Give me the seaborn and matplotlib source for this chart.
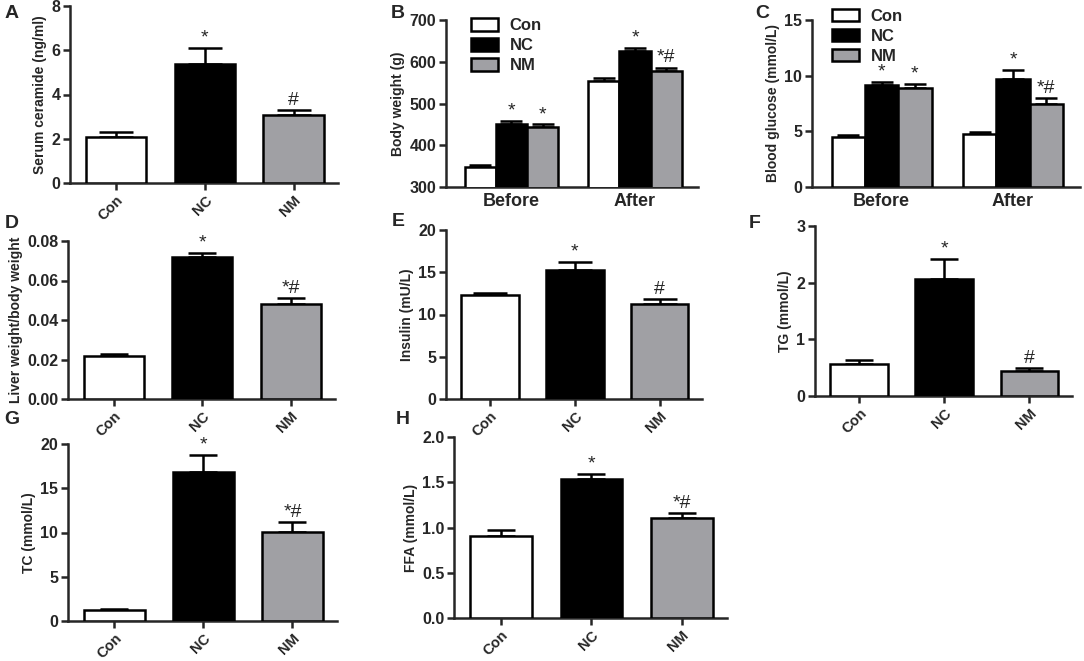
import matplotlib
matplotlib.use("Agg")
import matplotlib.pyplot as plt
import seaborn as sns
import pandas as pd
import numpy as np
from matplotlib.patches import Patch

# ---------------- data ----------------
groups = ["Con", "NC", "NM"]
colors = ["#FFFFFF", "#000000", "#A0A0A4"]
times = ["Before", "After"]

# A serum ceramide
cer_mean = [2.1, 5.4, 3.08]
cer_err = [0.22, 0.7, 0.22]
cer_marks = ["", "*", "#"]

# B body weight (Before, After)
bw_con = [349, 554]
bw_nc = [451, 626]
bw_nm = [444, 578]
bw_con_err = [3, 6]
bw_nc_err = [8, 7]
bw_nm_err = [6, 8]
bw_marks_con = ["", ""]
bw_marks_nc = ["*", "*"]
bw_marks_nm = ["*", "*#"]

# C blood glucose (Before, After)
bg_con = [4.5, 4.75]
bg_nc = [9.15, 9.7]
bg_nm = [8.87, 7.45]
bg_con_err = [0.15, 0.15]
bg_nc_err = [0.3, 0.8]
bg_nm_err = [0.35, 0.5]
bg_marks_con = ["", ""]
bg_marks_nc = ["*", "*"]
bg_marks_nm = ["*", "*#"]

# D liver / body weight
liv_mean = [0.0218, 0.0717, 0.0481]
liv_err = [0.0008, 0.0024, 0.0029]
liv_marks = ["", "*", "*#"]

# E insulin
ins_mean = [12.3, 15.25, 11.2]
ins_err = [0.3, 1.0, 0.63]
ins_marks = ["", "*", "#"]

# F TG
tg_mean = [0.565, 2.06, 0.447]
tg_err = [0.07, 0.36, 0.045]
tg_marks = ["", "*", "#"]

# G TC
tc_mean = [1.24, 16.85, 10.05]
tc_err = [0.06, 1.9, 1.1]
tc_marks = ["", "*", "*#"]

# H FFA
ffa_mean = [0.906, 1.536, 1.108]
ffa_err = [0.066, 0.055, 0.05]
ffa_marks = ["", "*", "*#"]

# ---------------- style ----------------
sns.set_style("ticks")
plt.rcParams["font.family"] = ["Liberation Sans", "DejaVu Sans"]
plt.rcParams["font.weight"] = "bold"
plt.rcParams["axes.labelweight"] = "bold"

W, H = 1084, 661
fig = plt.figure(figsize=(W / 100, H / 100), dpi=100)
LW = 1.8


def add_ax(left, right, top, bottom):
    return fig.add_axes([left / W, (H - bottom) / H, (right - left) / W, (bottom - top) / H])


def style_ax(ax, ylim, yticks, ylabel, fmt):
    sns.despine(ax=ax)
    for s in ["left", "bottom"]:
        ax.spines[s].set_linewidth(LW)
    ax.set_ylim(*ylim)
    ax.set_yticks(yticks)
    ax.set_yticklabels([fmt.format(v) for v in yticks], fontsize=11.5, fontweight="bold")
    ax.set_ylabel(ylabel, fontsize=10, fontweight="bold", labelpad=3)
    ax.tick_params(axis="y", width=LW, length=5, pad=2)


def annotate(ax, x, top, mark, fs=14):
    if mark:
        ax.annotate(mark, (x, top), xytext=(0, 1), textcoords="offset points",
                    ha="center", va="bottom", fontsize=fs, fontweight="normal")


def single_panel(ax, mean, err, marks, ylim, yticks, ylabel, fmt, capsize):
    df = pd.DataFrame({"group": groups, "value": mean})
    sns.barplot(data=df, x="group", y="value", hue="group", hue_order=groups,
                palette=colors, edgecolor="black", linewidth=LW, width=0.68,
                legend=False, ax=ax, zorder=3)
    xs, ys = [], []
    for c in ax.containers:
        for p in c:
            xs.append(p.get_x() + p.get_width() / 2)
            ys.append(p.get_height())
    ax.errorbar(xs, ys, yerr=[np.zeros(len(err)), err], fmt="none", ecolor="black",
                elinewidth=LW, capsize=capsize, capthick=LW, zorder=2)
    for x, y, e, m in zip(xs, ys, err, marks):
        annotate(ax, x, y + e, m)
    style_ax(ax, ylim, yticks, ylabel, fmt)
    ax.set_xlim(-0.52, 2.5)
    ax.set_xlabel("")
    ax.set_xticks(range(3))
    ax.set_xticklabels(groups, rotation=45, ha="right", rotation_mode="anchor",
                       fontsize=10.5, fontweight="bold")
    ax.tick_params(axis="x", width=LW, length=5, pad=2)


def grouped_panel(ax, vals, errs, marks, ylim, yticks, ylabel, fmt, capsize, legend_anchor):
    rows = []
    for g, v in zip(groups, vals):
        for t, val in zip(times, v):
            rows.append({"time": t, "group": g, "value": val})
    df = pd.DataFrame(rows)
    sns.barplot(data=df, x="time", y="value", hue="group", hue_order=groups, order=times,
                palette=colors, edgecolor="black", linewidth=LW, width=0.76,
                legend=False, ax=ax, zorder=3)
    for c, e_list, m_list in zip(ax.containers, errs, marks):
        xs = [p.get_x() + p.get_width() / 2 for p in c]
        ys = [p.get_height() for p in c]
        ax.errorbar(xs, ys, yerr=[np.zeros(len(e_list)), e_list], fmt="none", ecolor="black",
                    elinewidth=LW, capsize=capsize, capthick=LW, zorder=2)
        for x, y, e, m in zip(xs, ys, e_list, m_list):
            annotate(ax, x, y + e, m)
    style_ax(ax, ylim, yticks, ylabel, fmt)
    ax.set_xlim(-0.53, 1.51)
    ax.set_xlabel("")
    ax.set_xticks(range(2))
    ax.set_xticklabels(times, fontsize=13, fontweight="bold")
    ax.tick_params(axis="x", length=0, pad=4)
    handles = [Patch(facecolor=c, edgecolor="black", linewidth=LW, label=g)
               for g, c in zip(groups, colors)]
    ax.legend(handles=handles, frameon=False, loc="upper left", bbox_to_anchor=legend_anchor,
              prop={"weight": "bold", "size": 12}, handlelength=1.6, handleheight=0.75,
              labelspacing=0.3, handletextpad=0.7, borderaxespad=0, borderpad=0)


# A
axA = add_ax(70, 338, 6, 183)
single_panel(axA, cer_mean, cer_err, cer_marks, (0, 8), [0, 2, 4, 6, 8],
             "Serum ceramide (ng/ml)", "{:g}", 12)
# B
axB = add_ax(446, 698, 20, 187)
grouped_panel(axB, [bw_con, bw_nc, bw_nm], [bw_con_err, bw_nc_err, bw_nm_err],
              [bw_marks_con, bw_marks_nc, bw_marks_nm], (300, 700),
              [300, 400, 500, 600, 700], "Body weight (g)", "{:g}", 8, (0.10, 1.01))
# C
axC = add_ax(812, 1080, 20, 187)
grouped_panel(axC, [bg_con, bg_nc, bg_nm], [bg_con_err, bg_nc_err, bg_nm_err],
              [bg_marks_con, bg_marks_nc, bg_marks_nm], (0, 15),
              [0, 5, 10, 15], "Blood glucose (mmol/L)", "{:g}", 8, (0.075, 1.065))
# D
axD = add_ax(68, 335, 241, 399)
single_panel(axD, liv_mean, liv_err, liv_marks, (0, 0.08), [0, 0.02, 0.04, 0.06, 0.08],
             "Liver weight/body weight", "{:.2f}", 10)
# E
axE = add_ax(446, 702, 230, 399)
single_panel(axE, ins_mean, ins_err, ins_marks, (0, 20), [0, 5, 10, 15, 20],
             "Insulin (mU/L)", "{:g}", 12)
# F
axF = add_ax(815, 1072, 226, 396)
single_panel(axF, tg_mean, tg_err, tg_marks, (0, 3), [0, 1, 2, 3],
             "TG (mmol/L)", "{:g}", 10)
# G
axG = add_ax(68, 337, 444, 621)
single_panel(axG, tc_mean, tc_err, tc_marks, (0, 20), [0, 5, 10, 15, 20],
             "TC (mmol/L)", "{:g}", 10)
# H
axH = add_ax(454, 727, 437, 618)
single_panel(axH, ffa_mean, ffa_err, ffa_marks, (0, 2.0), [0, 0.5, 1.0, 1.5, 2.0],
             "FFA (mmol/L)", "{:.1f}", 10)

# panel letters
for letter, (px, py) in {"A": (12, 13), "B": (398, 13), "C": (762, 13),
                         "D": (12, 223), "E": (398, 222), "F": (755, 223),
                         "G": (12, 419), "H": (403, 419)}.items():
    fig.text(px / W, 1 - py / H, letter, fontsize=14, fontweight="bold",
             ha="center", va="center")

fig.savefig("out.png", dpi=100)
